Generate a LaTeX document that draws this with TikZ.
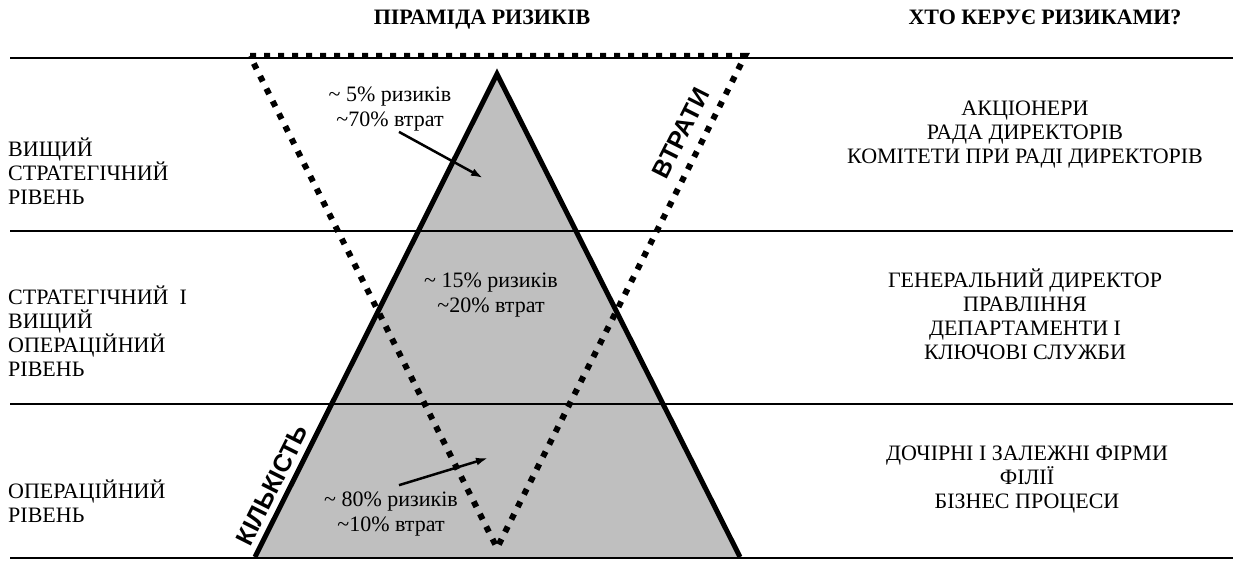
\documentclass[tikz,border=0pt]{standalone}
\usepackage{fontspec}
\setmainfont{Liberation Serif}
\newfontfamily\sidefont{Liberation Sans}
\usetikzlibrary{arrows.meta}

\begin{document}
\begin{tikzpicture}[x=1pt, y=-1pt,
		lvl/.style={font=\fontsize{22}{24}\selectfont, inner sep=0pt, align=left, anchor=base west},
		who/.style={font=\fontsize{22}{24}\selectfont, inner sep=0pt, align=center, anchor=base},
		pct/.style={font=\fontsize{22}{25}\selectfont, inner sep=0pt, align=center, anchor=base},
		hdr/.style={font=\bfseries\fontsize{22}{24}\selectfont, inner sep=0pt, anchor=base},
		side/.style={font=\sidefont\bfseries\fontsize{25}{26}\selectfont, inner sep=0pt, rotate=63.3},
		dots/.style={line width=6pt, dash pattern=on 6pt off 8pt},
		band/.style={line width=2pt}]
		%%%%% START %%%%%
		\useasboundingbox (0, 0) rectangle (1233, 561);
		
		\fill[color=black!25] (497, 74) -- (740, 557) -- (255, 557) -- cycle;
		
		\draw[band, line width=2.5pt] (10, 58) -- (1233, 58);
		\draw[band] (10, 231) -- (1233, 231);
		\draw[band] (10, 404) -- (1233, 404);
		\draw[band, line width=2.5pt] (10, 558) -- (1233, 558);
		
		\draw[line width=5pt, miter limit=20] (255, 557) -- (497, 74) -- (740, 557);
		\draw[dots] (250, 56) -- (745, 56) -- (497, 548) -- cycle;
		
		\node[hdr] (hdrpyr) at (482, 25) {ПІРАМІДА РИЗИКІВ};
		\node[hdr] (hdrwho) at (1045, 25) {ХТО КЕРУЄ РИЗИКАМИ?};
		
		% the base anchor sits on the last line
		\node[lvl] (lvltop) at (8, 205) {ВИЩИЙ\\СТРАТЕГІЧНИЙ\\РІВЕНЬ};
		\node[lvl] (lvlmid) at (8, 376) {СТРАТЕГІЧНИЙ~~І\\ВИЩИЙ\\ОПЕРАЦІЙНИЙ\\РІВЕНЬ};
		\node[lvl] (lvlbot) at (8, 522) {ОПЕРАЦІЙНИЙ\\РІВЕНЬ};
		
		\node[who] (whotop) at (1025, 164) {АКЦІОНЕРИ\\РАДА ДИРЕКТОРІВ\\КОМІТЕТИ ПРИ РАДІ ДИРЕКТОРІВ};
		\node[who] (whomid) at (1025, 359) {ГЕНЕРАЛЬНИЙ ДИРЕКТОР\\ПРАВЛІННЯ\\ДЕПАРТАМЕНТИ І\\КЛЮЧОВІ СЛУЖБИ};
		\node[who] (whobot) at (1027, 508) {ДОЧІРНІ І ЗАЛЕЖНІ ФІРМИ\\ФІЛІЇ\\БІЗНЕС ПРОЦЕСИ};
		
		\node[pct] (pct5) at (390, 127) {\textasciitilde{} 5\% ризиків\\\textasciitilde70\% втрат};
		\node[pct] (pct15) at (491, 312) {\textasciitilde{} 15\% ризиків\\\textasciitilde20\% втрат};
		\node[pct] (pct80) at (391, 531) {\textasciitilde{} 80\% ризиків\\\textasciitilde10\% втрат};
		
		\node[side] (loss) at (681, 133) {ВТРАТИ};
		\node[side] (count) at (272, 485) {КІЛЬКІСТЬ};
		
		\coordinate (tip5) at (483, 178);
		\coordinate (tip80) at (488, 458);
		\draw[line width=2.5pt, -{Latex[length=12pt, width=8pt]}] ([xshift=9pt]pct5.south) -- (tip5);
		\draw[line width=2.5pt, -{Latex[length=12pt, width=8pt]}] ([xshift=8pt, yshift=6pt]pct80.north) -- (tip80);
		
		%%%%% END %%%%%
\end{tikzpicture}
\end{document}
